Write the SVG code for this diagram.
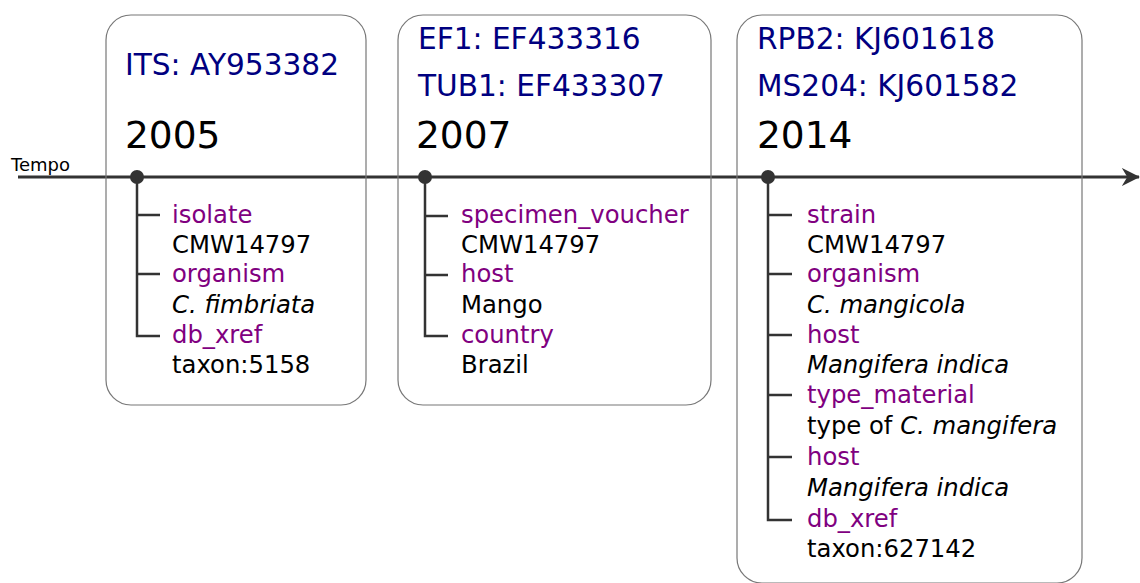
<svg xmlns="http://www.w3.org/2000/svg" width="1140" height="583" viewBox="0 0 1140 583">
<style>
text{font-family:"DejaVu Sans","Liberation Sans",sans-serif}
.hd{font-size:29.6px;fill:#000080}
.yr{font-size:37.5px;fill:#000}
.k{font-size:24.3px;fill:#800080}
.v{font-size:24.3px;fill:#000}
.i{font-style:italic}
.br{stroke:#333;stroke-width:2.5;fill:none}
.box{fill:none;stroke:#777;stroke-width:1.2}
</style>
<defs>
<marker id="arr" viewBox="0 0 10 10" refX="9.5" refY="5" markerWidth="6" markerHeight="6" markerUnits="strokeWidth" orient="auto">
<path d="M0,0 L10,5 L0,10 L3,5 Z" fill="#333"/>
</marker>
</defs>
<g id="connectors">
<line x1="18" y1="177" x2="1139" y2="177" stroke="#333" stroke-width="3" marker-end="url(#arr)"/>
<text x="11" y="171" style="font-size:18px;fill:#000">Tempo</text>
</g>
<g id="n2005">
<rect class="box" x="106" y="15" width="260" height="390" rx="25"/>
<text class="hd" x="125" y="75">ITS: AY953382</text>
<text class="yr" x="125" y="148">2005</text>
<circle cx="137" cy="177" r="7" fill="#333"/>
<path class="br" d="M137,177 V336 H160 M137,215 H160 M137,274 H160"/>
<text class="k" x="172" y="223">isolate</text>
<text class="v" x="172" y="253">CMW14797</text>
<text class="k" x="172" y="282">organism</text>
<text class="v i" x="172" y="313">C. fimbriata</text>
<text class="k" x="172" y="343">db_xref</text>
<text class="v" x="172" y="373">taxon:5158</text>
</g>
<g id="n2007">
<rect class="box" x="398" y="15" width="313" height="390" rx="25"/>
<text class="hd" x="418" y="49">EF1: EF433316</text>
<text class="hd" x="418" y="96">TUB1: EF433307</text>
<text class="yr" x="416" y="148">2007</text>
<circle cx="425" cy="177" r="7" fill="#333"/>
<path class="br" d="M425,177 V336 H448 M425,216 H448 M425,275 H448"/>
<text class="k" x="461" y="223">specimen_voucher</text>
<text class="v" x="461" y="253">CMW14797</text>
<text class="k" x="461" y="282">host</text>
<text class="v" x="461" y="313">Mango</text>
<text class="k" x="461" y="343">country</text>
<text class="v" x="461" y="373">Brazil</text>
</g>
<g id="n2014">
<rect class="box" x="737" y="15" width="345" height="568" rx="25"/>
<text class="hd" x="757" y="49">RPB2: KJ601618</text>
<text class="hd" x="757" y="96">MS204: KJ601582</text>
<text class="yr" x="757" y="148">2014</text>
<circle cx="768" cy="177" r="7" fill="#333"/>
<path class="br" d="M768,177 V520 H792 M768,215 H792 M768,274 H792 M768,335 H792 M768,395 H792 M768,457 H792"/>
<text class="k" x="807" y="223">strain</text>
<text class="v" x="807" y="253">CMW14797</text>
<text class="k" x="807" y="282">organism</text>
<text class="v i" x="807" y="313">C. mangicola</text>
<text class="k" x="807" y="343">host</text>
<text class="v i" x="807" y="373">Mangifera indica</text>
<text class="k" x="807" y="403">type_material</text>
<text class="v" x="807" y="434">type of <tspan class="i">C. mangifera</tspan></text>
<text class="k" x="807" y="465">host</text>
<text class="v i" x="807" y="496">Mangifera indica</text>
<text class="k" x="807" y="527">db_xref</text>
<text class="v" x="807" y="557">taxon:627142</text>
</g>
</svg>
